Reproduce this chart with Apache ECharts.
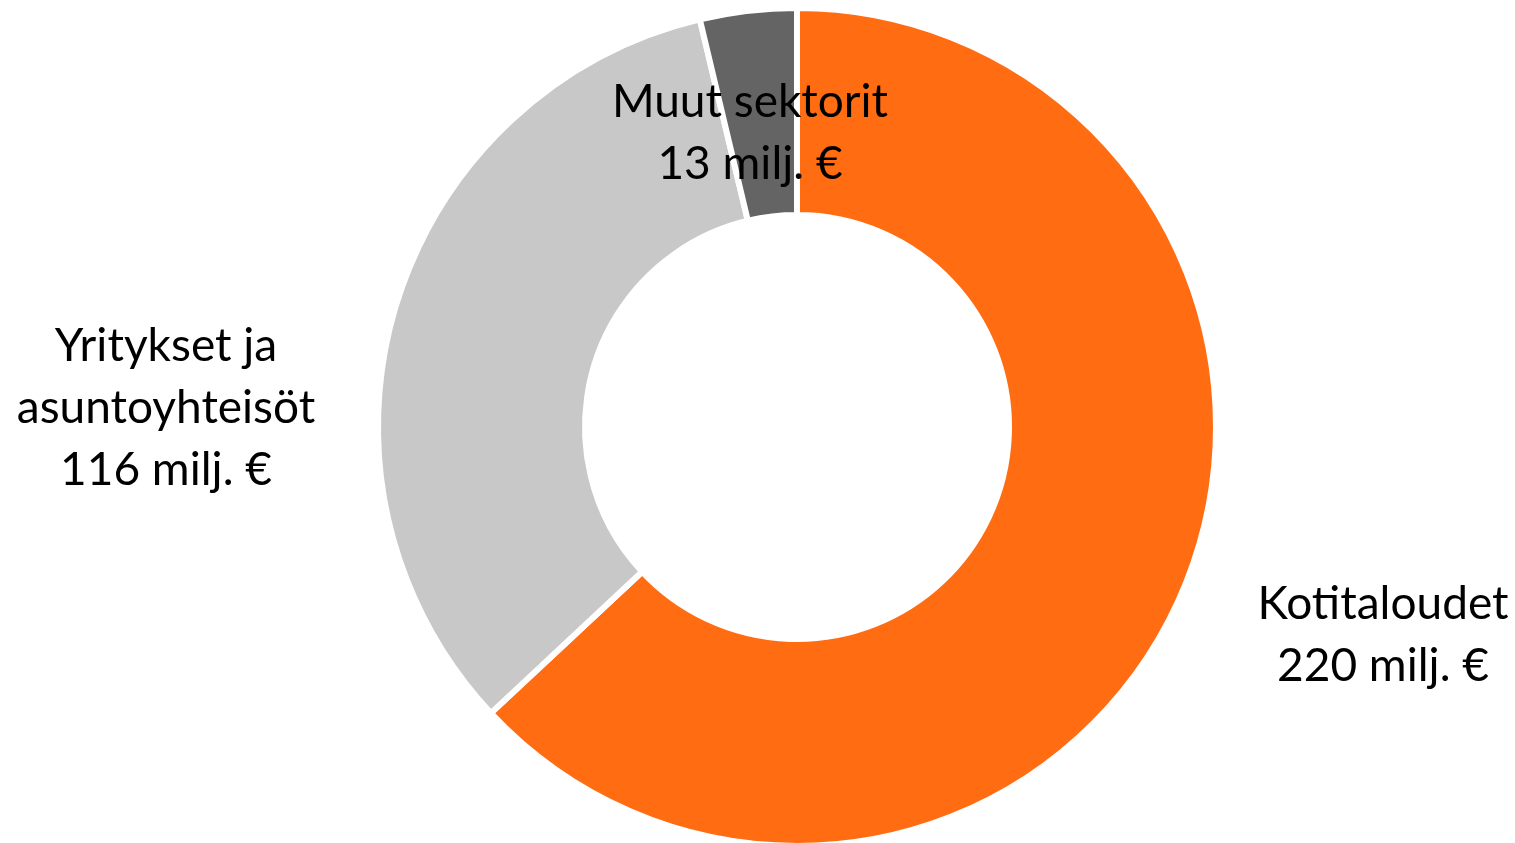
<!DOCTYPE html>
<html>
<head>
<meta charset="utf-8">
<script src="https://cdn.jsdelivr.net/npm/echarts@6/dist/echarts.min.js"></script>
<style>
  html, body { margin: 0; padding: 0; background: #fff; }
  #main { width: 1515px; height: 843px; }
</style>
</head>
<body>
<div id="main"></div>
<script>
// sektorit ja summat (milj. €)
var sectors = ['Kotitaloudet', 'Yritykset ja\nasuntoyhteisöt', 'Muut sektorit'];
var amounts = [220, 116, 13];
var colors = ['#FF6C12', '#C8C8C8', '#646464'];

// tekstien paikat (px)
var labelPos = [[1383, 635], [166, 408], [750, 133]];

var myChart = echarts.init(document.getElementById('main'));
var option = {
  animation: false,
  series: [{
    type: 'pie',
    center: [797, 427],
    radius: [212, 419],
    startAngle: 90,
    clockwise: true,
    itemStyle: {
      borderColor: '#fff',
      borderWidth: 6
    },
    label: {
      show: true,
      position: 'outside',
      formatter: function(p) { return p.name + '\n' + p.value + ' milj. €' },
      fontFamily: 'Lato',
      fontSize: 46,
      lineHeight: 62,
      color: '#000',
      align: 'center'
    },
    labelLine: { show: false },
    labelLayout: function(params) {
      var pos = labelPos[params.dataIndex];
      return { x: pos[0], y: pos[1], align: 'center', verticalAlign: 'middle', hideOverlap: false };
    },
    data: sectors.map(function(name, i) {
      return { name: name, value: amounts[i], itemStyle: { color: colors[i] } };
    })
  }]
};
myChart.setOption(option);
</script>
</body>
</html>
